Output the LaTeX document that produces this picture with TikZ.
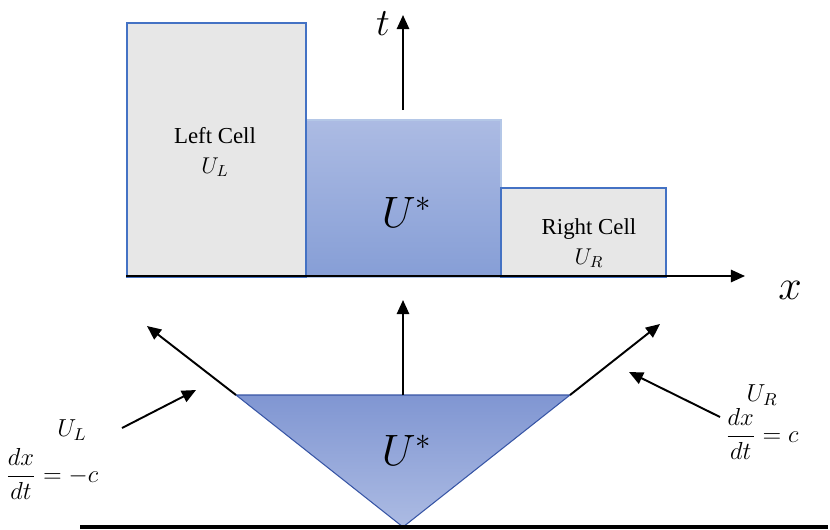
\RequirePackage{fix-cm}
\documentclass[tikz,border=0pt]{standalone}
\usepackage{amsmath}
\usepackage{fontspec}
\setmainfont{Liberation Serif}
\usetikzlibrary{
  arrows.meta,
  positioning
}
\definecolor{cellblue}{RGB}{68,114,196}
\definecolor{cellgray}{RGB}{231,231,231}
\definecolor{startop}{RGB}{172,187,227}
\definecolor{starbot}{RGB}{134,158,214}
\definecolor{fantop}{RGB}{128,150,210}
\definecolor{fanbot}{RGB}{172,187,227}
\definecolor{fanedge}{RGB}{55,85,165}

\begin{document}
\begin{tikzpicture}[
  x=0.02cm, y=-0.02cm,
  cell/.style={draw=cellblue, line width=1.2pt, fill=cellgray,
               anchor=north west, inner sep=0pt},
  celltext/.style={font=\fontsize{13}{17}\selectfont, align=center},
  bigmath/.style={font=\fontsize{25}{29}\selectfont},
  speed/.style={font=\fontsize{14}{17}\selectfont},
  axis/.style={-{Triangle[length=8pt,width=7pt]}, line width=1.1pt},
  >=Stealth
]
\useasboundingbox (0,0) rectangle (830,529);

% Cells
\node[cell, draw=cellblue!40, top color=startop, bottom color=starbot,
      minimum width=3.9cm, minimum height=3.14cm]
  (mid) at (305,119) {};
\node[cell, minimum width=3.58cm, minimum height=5.08cm]
  (left) at (126,22) {};
\node[cell, minimum width=3.3cm, minimum height=1.78cm]
  (right) at (500,187) {};

\node[celltext] (ltext) at (215,152) {Left Cell\\$U_L$};
\node[celltext] (rtext) at (589,243) {Right Cell\\$U_R$};
\node[bigmath] (ustar) at (407,212) {$U^*$};

% Axes
\coordinate (orig) at (126,276);
\coordinate (xend) at (745,276);
\coordinate (tbase) at (403,110);
\coordinate (tend) at (403,15);
\draw[axis] (orig) -- (xend);
\draw[axis] (tbase) -- (tend);
\node[font=\fontsize{24}{28}\selectfont] (xlab) at (790,290) {$x$};
\node[font=\fontsize{22}{26}\selectfont] (tlab) at (383,24) {$t$};

% Fan
\coordinate (fl) at (236,395);
\coordinate (fr) at (570,395);
\coordinate (fm) at (403,395);
\coordinate (apex) at (403,527);
\shade[top color=fantop, bottom color=fanbot] (fl) -- (fr) -- (apex) -- cycle;
\draw[fanedge, line width=0.6pt] (fl) -- (fr) -- (apex) -- cycle;
\node[bigmath] (fstar) at (407,450) {$U^*$};

\coordinate (base1) at (80,527);
\coordinate (base2) at (828,527);
\draw[line width=1.8pt] (base1) -- (base2);

% Arrows
\coordinate (ltip) at (147,326);
\coordinate (rtip) at (660,324);
\coordinate (mtip) at (403,300);
\draw[axis] (fl) -- (ltip);
\draw[axis] (fr) -- (rtip);
\draw[axis] (fm) -- (mtip);

% Wave speeds
\node[speed] (ul) at (72,430) {$U_L$};
\node[speed] (sl) at (52,474) {$\dfrac{dx}{dt} = -c$};
\node[speed] (ur) at (762,395) {$U_R$};
\node[speed] (sr) at (762,434) {$\dfrac{dx}{dt} = c$};
\coordinate (lfrom) at (122,428);
\coordinate (lto) at (196,390);
\coordinate (rfrom) at (720,417);
\coordinate (rto) at (629,372);
\draw[axis] (lfrom) -- (lto);
\draw[axis] (rfrom) -- (rto);

\end{tikzpicture}
\end{document}
